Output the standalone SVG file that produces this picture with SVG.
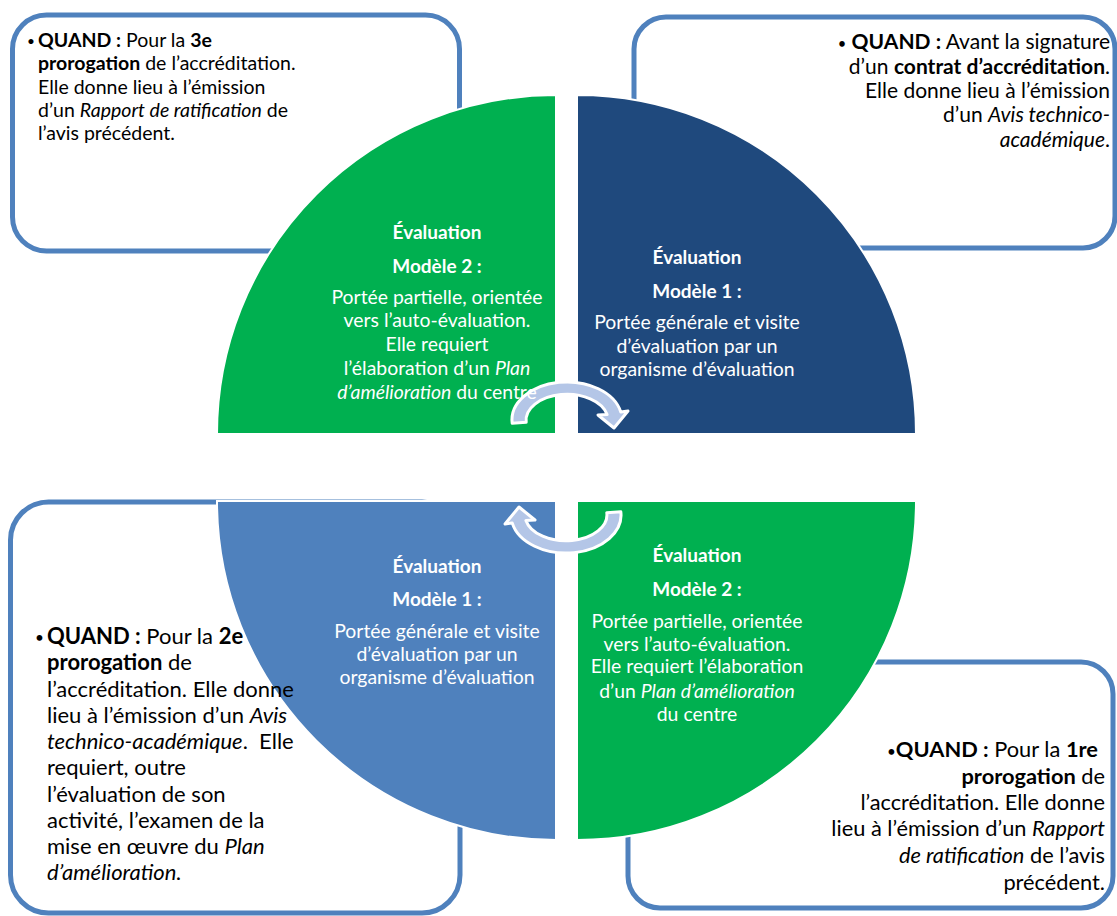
<svg xmlns="http://www.w3.org/2000/svg" width="1117" height="916" viewBox="0 0 1117 916">
<style>
.box{fill:#ffffff;stroke:#4F81BD;stroke-width:5}
.q{stroke:#ffffff;stroke-width:2}
.arr{fill:#B4C6E7;stroke:#ffffff;stroke-width:3;stroke-linejoin:round}
text{font-family:Lato,"Liberation Sans",sans-serif}
.k{fill:#000000}
.w{fill:#ffffff;text-anchor:middle;font-size:19.4px}
.h{font-weight:bold;font-size:19px}
.b{font-weight:bold}
.i{font-style:italic}
.e{text-anchor:end}
.dot{font-size:0.7em}
</style>
<rect width="1117" height="916" fill="#ffffff"/>
<g id="box-tl"><rect class="box" x="12.5" y="15" width="447" height="236" rx="34"/></g>
<g id="box-tr"><rect class="box" x="634" y="17" width="481" height="231" rx="32"/></g>
<g id="box-bl"><rect class="box" x="10.5" y="502" width="449.5" height="411" rx="38"/></g>
<g id="box-br"><rect class="box" x="628" y="662" width="485" height="246" rx="32"/></g>

<g id="q-tl"><path class="q" fill="#00B050" d="M556 434 L217 434 A339 339 0 0 1 556 95 Z"/></g>
<g id="q-tr"><path class="q" fill="#1F497D" d="M577 434 L577 95 A339 339 0 0 1 916 434 Z"/></g>
<g id="q-bl"><path class="q" fill="#4F81BD" d="M556 501 L556 840 A339 339 0 0 1 217 501 Z"/></g>
<g id="q-br"><path class="q" fill="#00B050" d="M577 501 L916 501 A339 339 0 0 1 577 840 Z"/></g>

<g id="connectors">
<path id="arrow-top" class="arr" d="M512.2 423.3 A55 38 0 0 1 620.8 412.1 L628 411 L614 428 L598 415 L607.1 414.6 A41 26 0 0 0 526.2 422.3 Z"/>
<path id="arrow-bottom" class="arr" transform="rotate(180 566.5 467.5)" d="M512.2 423.3 A55 38 0 0 1 620.8 412.1 L628 411 L614 428 L598 415 L607.1 414.6 A41 26 0 0 0 526.2 422.3 Z"/>
</g>

<g id="text-tl" class="k" font-size="19.5">
<text x="27" y="46" class="dot">•</text>
<text x="38" y="47"><tspan class="b">QUAND :</tspan> Pour la <tspan class="b">3e</tspan></text>
<text x="38" y="70"><tspan class="b">prorogation</tspan> de l’accréditation.</text>
<text x="38" y="94">Elle donne lieu à l’émission</text>
<text x="38" y="117">d’un <tspan class="i">Rapport de ratification</tspan> de</text>
<text x="38" y="140">l’avis précédent.</text>
</g>

<g id="text-tr" class="k" font-size="21">
<text class="e" x="1110" y="49"><tspan class="dot">•</tspan> <tspan class="b">QUAND :</tspan> Avant la signature</text>
<text class="e" x="1110" y="74">d’un <tspan class="b">contrat d’accréditation</tspan>.</text>
<text class="e" x="1110" y="98">Elle donne lieu à l’émission</text>
<text class="e" x="1110" y="122">d’un <tspan class="i">Avis technico-</tspan></text>
<text class="e" x="1110" y="147"><tspan class="i">académique</tspan>.</text>
</g>

<g id="text-bl" class="k" font-size="22">
<text x="35" y="643" class="dot">•</text>
<text x="47" y="644"><tspan class="b">QUAND :</tspan> Pour la <tspan class="b">2e</tspan></text>
<text x="47" y="670"><tspan class="b">prorogation</tspan> de</text>
<text x="47" y="697">l’accréditation. Elle donne</text>
<text x="47" y="723">lieu à l’émission d’un <tspan class="i">Avis</tspan></text>
<text x="47" y="749" xml:space="preserve"><tspan class="i">technico-académique</tspan>.  Elle</text>
<text x="47" y="775">requiert, outre</text>
<text x="47" y="802">l’évaluation de son</text>
<text x="47" y="828">activité, l’examen de la</text>
<text x="47" y="854">mise en œuvre du <tspan class="i">Plan</tspan></text>
<text x="47" y="880" class="i">d’amélioration.</text>
</g>

<g id="text-br" class="k" font-size="21.8">
<text class="e" x="1098" y="757"><tspan class="dot">•</tspan><tspan class="b">QUAND :</tspan> Pour la <tspan class="b">1re</tspan></text>
<text class="e" x="1105" y="784"><tspan class="b">prorogation</tspan> de</text>
<text class="e" x="1105" y="810">l’accréditation. Elle donne</text>
<text class="e" x="1105" y="836">lieu à l’émission d’un <tspan class="i">Rapport</tspan></text>
<text class="e" x="1105" y="863"><tspan class="i">de ratification</tspan> de l’avis</text>
<text class="e" x="1105" y="890">précédent.</text>
</g>

<g id="label-tl">
<text class="w h" x="437" y="239">Évaluation</text>
<text class="w h" x="437" y="273">Modèle 2 :</text>
<text class="w" x="437" y="304">Portée partielle, orientée</text>
<text class="w" x="437" y="327">vers l’auto-évaluation.</text>
<text class="w" x="437" y="351">Elle requiert</text>
<text class="w" x="437" y="375">l’élaboration d’un <tspan class="i">Plan</tspan></text>
<text class="w" x="437" y="399"><tspan class="i">d’amélioration</tspan> du centre</text>
</g>
<g id="label-tr">
<text class="w h" x="697" y="264">Évaluation</text>
<text class="w h" x="697" y="298">Modèle 1 :</text>
<text class="w" x="697" y="329">Portée générale et visite</text>
<text class="w" x="697" y="353">d’évaluation par un</text>
<text class="w" x="697" y="376">organisme d’évaluation</text>
</g>
<g id="label-bl">
<text class="w h" x="437" y="573">Évaluation</text>
<text class="w h" x="437" y="606">Modèle 1 :</text>
<text class="w" x="437" y="638">Portée générale et visite</text>
<text class="w" x="437" y="661">d’évaluation par un</text>
<text class="w" x="437" y="684">organisme d’évaluation</text>
</g>
<g id="label-br">
<text class="w h" x="697" y="562">Évaluation</text>
<text class="w h" x="697" y="596">Modèle 2 :</text>
<text class="w" x="697" y="628">Portée partielle, orientée</text>
<text class="w" x="697" y="651">vers l’auto-évaluation.</text>
<text class="w" x="697" y="673">Elle requiert l’élaboration</text>
<text class="w" x="697" y="698">d’un <tspan class="i">Plan d’amélioration</tspan></text>
<text class="w" x="697" y="721">du centre</text>
</g>
</svg>
